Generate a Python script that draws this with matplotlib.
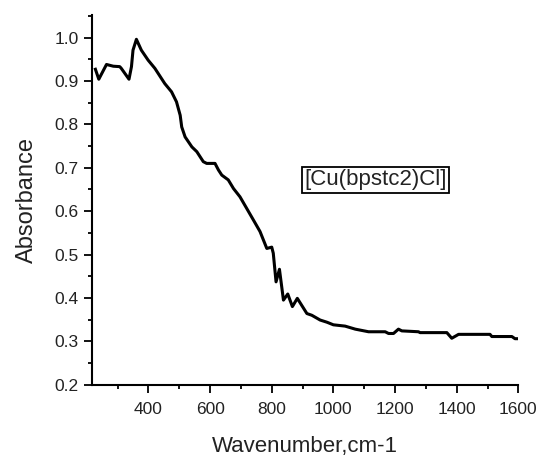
import matplotlib
matplotlib.use("Agg")
import matplotlib.pyplot as plt
from matplotlib.ticker import MultipleLocator

plt.rcParams['font.family'] = ['Liberation Sans', 'DejaVu Sans']

wavenumber = [228, 239, 264, 286, 307, 312, 337, 345, 350, 361, 377, 399, 421, 453, 475,
              491, 503, 508, 519, 541, 557, 578, 589, 616, 627, 638, 659, 676, 697, 719,
              741, 762, 784, 800, 805, 814, 825, 838, 852, 867, 883, 914, 930, 957, 979,
              1000, 1038, 1071, 1114, 1168, 1179, 1195, 1211, 1222, 1276, 1281, 1368, 1384,
              1406, 1508, 1514, 1579, 1589, 1600]
absorbance = [0.927, 0.904, 0.938, 0.934, 0.933, 0.929, 0.904, 0.933, 0.971, 0.996, 0.971,
              0.948, 0.929, 0.894, 0.875, 0.852, 0.821, 0.794, 0.771, 0.748, 0.737, 0.714,
              0.710, 0.710, 0.695, 0.683, 0.672, 0.652, 0.633, 0.606, 0.579, 0.553, 0.514,
              0.517, 0.503, 0.437, 0.466, 0.395, 0.409, 0.380, 0.399, 0.364, 0.360, 0.349,
              0.344, 0.338, 0.335, 0.328, 0.322, 0.322, 0.318, 0.318, 0.328, 0.324, 0.322,
              0.320, 0.320, 0.307, 0.316, 0.316, 0.311, 0.311, 0.306, 0.306]
label_text = "[Cu(bpstc2)Cl]"

fig = plt.figure(figsize=(5.39, 4.59), dpi=100)
ax = fig.add_axes([0.1707, 0.1619, 0.791, 0.8054])
ax.plot(wavenumber, absorbance, color='black', lw=2.2)
ax.set_xlim(217, 1600)
ax.set_ylim(0.2, 1.052)
ax.xaxis.set_minor_locator(MultipleLocator(100))
ax.yaxis.set_minor_locator(MultipleLocator(0.05))
ax.set_xticks([400, 600, 800, 1000, 1200, 1400, 1600])
ax.set_yticks([0.2, 0.3, 0.4, 0.5, 0.6, 0.7, 0.8, 0.9, 1.0])
ax.set_yticklabels(['0.2', '0.3', '0.4', '0.5', '0.6', '0.7', '0.8', '0.9', '1.0'])
for s in ['top', 'right']:
    ax.spines[s].set_visible(False)
for s in ['left', 'bottom']:
    ax.spines[s].set_linewidth(1.5)
ax.tick_params(which='major', direction='out', length=5.5, width=1.3, labelsize=12.5,
               labelcolor='#222222', pad=4)
ax.tick_params(which='minor', direction='out', length=3.2, width=1.3)
ax.tick_params(axis='x', which='major', pad=7)
ax.set_xlabel('Wavenumber,cm-1', fontsize=16, labelpad=14, color='#222222')
ax.set_ylabel('Absorbance', fontsize=17, labelpad=12, color='#222222')
ax.text(1138, 0.672, label_text, fontsize=16, ha='center', va='center', color='#222222',
        bbox=dict(boxstyle='square,pad=0.1', fc='white', ec='black', lw=1.3))
fig.savefig('out.png', dpi=100)
